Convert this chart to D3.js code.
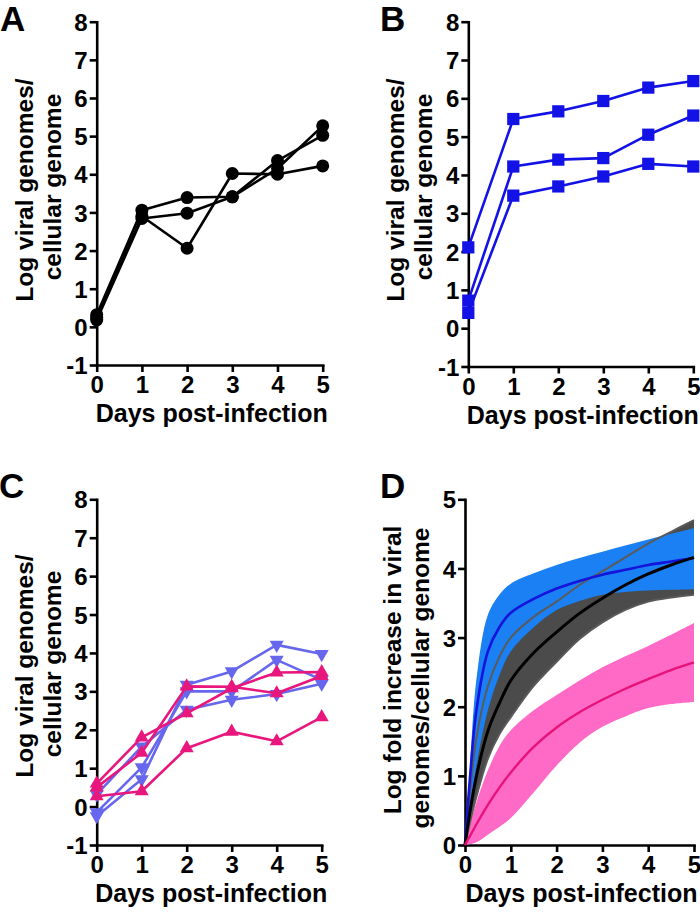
<!DOCTYPE html>
<html><head><meta charset="utf-8">
<script src="https://cdn.jsdelivr.net/npm/d3@7"></script>
<style>
body{margin:0;background:#fff}
text{font-family:"Liberation Sans",Arial,Helvetica,sans-serif;font-weight:bold;fill:#000}
</style>
</head><body>
<svg id="c" width="700" height="912"></svg>
<script>
// ---------- data ----------
const days = [0, 1, 2, 3, 4, 5];
const xTicks = [0, 1, 2, 3, 4, 5];
const yTicksABC = [-1, 0, 1, 2, 3, 4, 5, 6, 7, 8];
const yTicksD = [0, 1, 2, 3, 4, 5];
const xLabel = "Days post-infection";
const yLabelABC = ["Log viral genomes/", "cellular genome"];
const yLabelD = ["Log fold increase in viral", "genomes/cellular genome"];

// Panel A (black circles)
const aSeries1 = [0.32, 3.06, 3.39, 3.41, 4.15, 5.27];
const aSeries2 = [0.18, 2.84, 2.98, 3.41, 4.36, 5.02];
const aSeries3 = [0.25, 2.90, 2.06, 4.02, 4.00, 4.22];

// Panel B (blue squares)
const bSeries1 = [2.11, 5.46, 5.66, 5.93, 6.28, 6.45];
const bSeries2 = [0.72, 4.22, 4.40, 4.44, 5.05, 5.55];
const bSeries3 = [0.40, 3.46, 3.70, 3.96, 4.29, 4.22];

// Panel C (blue down-triangles, pink up-triangles)
const cBlue1 = [-0.25, 0.71, 3.17, 3.52, 4.21, 3.97];
const cBlue2 = [-0.15, 1.02, 3.00, 3.00, 3.82, 3.30];
const cBlue3 = [0.32, 1.56, 2.52, 2.78, 2.93, 3.20];
const cPink1 = [0.27, 0.40, 1.52, 1.95, 1.70, 2.33];
const cPink2 = [0.60, 1.80, 2.43, 3.08, 3.49, 3.50];
const cPink3 = [0.50, 1.40, 3.13, 3.12, 2.95, 3.40];

// Panel D (fitted curves with confidence bands)
const dDays      = [0, 0.1, 0.25, 0.5, 0.75, 1, 1.5, 2, 2.5, 3, 3.5, 4, 4.5, 5];
const blueUpper  = [0, 1.05, 2.40, 3.33, 3.62, 3.78, 3.93, 4.05, 4.15, 4.24, 4.33, 4.42, 4.50, 4.58];
const blueMean   = [0, 0.90, 1.95, 2.80, 3.15, 3.36, 3.56, 3.71, 3.82, 3.91, 3.98, 4.05, 4.10, 4.15];
const blueLower  = [0, 0.45, 1.15, 1.95, 2.45, 2.80, 3.15, 3.40, 3.53, 3.62, 3.66, 3.68, 3.69, 3.70];
const grayUpper  = [0, 0.70, 1.55, 2.30, 2.72, 3.00, 3.30, 3.52, 3.76, 3.96, 4.16, 4.36, 4.53, 4.70];
const blackMean  = [0, 0.45, 1.00, 1.65, 2.05, 2.38, 2.78, 3.08, 3.35, 3.57, 3.76, 3.92, 4.05, 4.16];
const grayLower  = [0, 0.30, 0.70, 1.25, 1.60, 1.85, 2.30, 2.65, 2.98, 3.22, 3.40, 3.52, 3.58, 3.62];
const pinkUpper  = [0, 0.28, 0.62, 1.08, 1.43, 1.66, 1.95, 2.17, 2.38, 2.57, 2.73, 2.88, 3.04, 3.21];
const pinkMean   = [0, 0.12, 0.30, 0.58, 0.83, 1.05, 1.42, 1.70, 1.92, 2.10, 2.26, 2.40, 2.53, 2.64];
const pinkLower  = [0, 0.01, 0.04, 0.15, 0.26, 0.39, 0.76, 1.15, 1.48, 1.71, 1.86, 1.98, 2.04, 2.07];

// ---------- drawing ----------
const svg = d3.select("#c");
const AX_W = 2.6;

function panel(cfg) {
  const g = svg.append("g");
  const x = d3.scaleLinear().domain([0, 5]).range([cfg.x0, cfg.x5]);
  const y = d3.scaleLinear().domain(cfg.yDomain).range([cfg.yBot, cfg.yTop]);

  const ya = d3.axisLeft(y).tickValues(cfg.yTicks).tickSize(7).tickSizeOuter(0)
    .tickPadding(2).tickFormat(d => String(d));
  const xa = d3.axisBottom(x).tickValues(xTicks).tickSize(7).tickSizeOuter(0)
    .tickPadding(4).tickFormat(d => String(d));
  const gy = g.append("g").attr("transform", `translate(${cfg.x0},0)`).call(ya);
  const gx = g.append("g").attr("transform", `translate(0,${cfg.yBot})`).call(xa);
  [gy, gx].forEach(a => {
    a.selectAll("path.domain").attr("stroke", "#000").attr("stroke-width", AX_W)
      .attr("stroke-linecap", "square");
    a.selectAll(".tick line").attr("stroke", "#000").attr("stroke-width", AX_W);
    a.selectAll(".tick text").style("font-size", "24px").style("font-weight", "bold")
      .attr("fill", "#000").attr("font-family", '"Liberation Sans",Arial,sans-serif');
  });
  gy.selectAll(".tick text").attr("dy", "0.36em");
  gx.selectAll(".tick text").attr("dy", "0.72em");

  // x label
  g.append("text").attr("x", (cfg.x0 + cfg.x5) / 2 + 2).attr("y", cfg.yBot + 57)
    .attr("text-anchor", "middle").style("font-size", "25px").text(xLabel);
  // y labels
  cfg.yLabel.forEach((t, i) => {
    g.append("text")
      .attr("transform", `translate(${cfg.x0 + (i === 0 ? -64 : -36)},${cfg.yLabelC[i]}) rotate(-90)`)
      .attr("text-anchor", "middle").style("font-size", "24.5px").text(t);
  });
  // panel letter
  g.append("text").attr("x", cfg.letterX).attr("y", cfg.letterY)
    .style("font-size", "35px").text(cfg.letter);
  return { g, x, y };
}

function drawSeries(p, series, color, marker) {
  const line = d3.line().x((d, i) => p.x(days[i])).y(d => p.y(d));
  series.forEach(s => {
    p.g.append("path").datum(s).attr("d", line).attr("fill", "none")
      .attr("stroke", color).attr("stroke-width", 2.6).attr("stroke-linejoin", "round");
  });
  series.forEach(s => {
    s.forEach((v, i) => {
      const cx = p.x(days[i]), cy = p.y(v);
      if (marker === "circle") {
        p.g.append("circle").attr("cx", cx).attr("cy", cy).attr("r", 6.5).attr("fill", color);
      } else if (marker === "square") {
        p.g.append("path").attr("d", d3.symbol(d3.symbolSquare, 150)())
          .attr("transform", `translate(${cx},${cy})`).attr("fill", color);
      } else if (marker === "up") {
        p.g.append("path").attr("d", d3.symbol(d3.symbolTriangle, 85)())
          .attr("transform", `translate(${cx},${cy})`).attr("fill", color);
      } else if (marker === "down") {
        p.g.append("path").attr("d", d3.symbol(d3.symbolTriangle, 85)())
          .attr("transform", `translate(${cx},${cy}) rotate(180)`).attr("fill", color);
      }
    });
  });
}

// Panel A
const pA = panel({ x0: 96.7, x5: 322.7, yTop: 21.7, yBot: 365, yDomain: [-1, 8], yTicks: yTicksABC,
  yLabel: yLabelABC, yLabelC: [190, 187], letter: "A", letterX: 0, letterY: 31 });
drawSeries(pA, [aSeries1, aSeries2, aSeries3], "#000", "circle");

// Panel B
const pB = panel({ x0: 468.3, x5: 693.3, yTop: 21.7, yBot: 366.5, yDomain: [-1, 8], yTicks: yTicksABC,
  yLabel: yLabelABC, yLabelC: [190, 187], letter: "B", letterX: 380, letterY: 31 });
drawSeries(pB, [bSeries1, bSeries2, bSeries3], "#1212e6", "square");

// Panel C
const pC = panel({ x0: 96.7, x5: 321.7, yTop: 499.3, yBot: 845, yDomain: [-1, 8], yTicks: yTicksABC,
  yLabel: yLabelABC, yLabelC: [666, 664], letter: "C", letterX: -1, letterY: 498 });
drawSeries(pC, [cBlue1, cBlue2, cBlue3], "#6767ee", "down");
drawSeries(pC, [cPink1, cPink2, cPink3], "#e8177d", "up");

// Panel D
const pD = panel({ x0: 465, x5: 694, yTop: 499.3, yBot: 845, yDomain: [0, 5], yTicks: yTicksD,
  yLabel: yLabelD, yLabelC: [670, 678], letter: "D", letterX: 380, letterY: 498 });
const curve = d3.curveCatmullRom.alpha(0.5);
const band = (lo, hi) => d3.area().curve(curve).x((d, i) => pD.x(dDays[i]))
  .y0((d, i) => pD.y(lo[i])).y1((d, i) => pD.y(hi[i]))(dDays);
const ln = arr => d3.line().curve(curve).x((d, i) => pD.x(dDays[i])).y((d, i) => pD.y(arr[i]))(dDays);

pD.g.append("path").attr("d", band(grayLower, grayUpper)).attr("fill", "#4b4b4b");
pD.g.append("path").attr("d", band(blueLower, blueUpper)).attr("fill", "#1a80f4");
pD.g.append("path").attr("d", band(pinkLower, pinkUpper)).attr("fill", "#ff6ac6");
[grayUpper, grayLower].forEach(a => pD.g.append("path").attr("d", ln(a)).attr("fill", "none")
  .attr("stroke", "#5a5a5a").attr("stroke-width", 2));
pD.g.append("path").attr("d", ln(blueMean)).attr("fill", "none").attr("stroke", "#1414dc").attr("stroke-width", 2.6);
pD.g.append("path").attr("d", ln(blackMean)).attr("fill", "none").attr("stroke", "#000").attr("stroke-width", 3);
pD.g.append("path").attr("d", ln(pinkMean)).attr("fill", "none").attr("stroke", "#e8137a").attr("stroke-width", 2.4);
</script>
</body></html>
